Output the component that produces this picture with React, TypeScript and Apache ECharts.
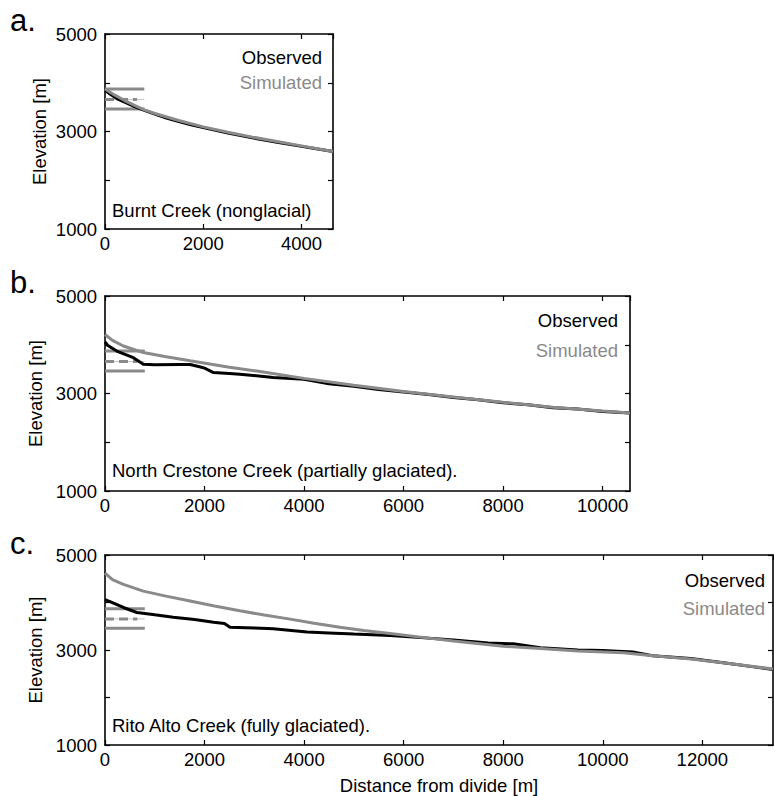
import React, { useEffect, useRef } from "react";
import * as echarts from "echarts";

// ---- Data (distance from divide [m], elevation [m]) ----
const observedA: number[][] = [
  [0, 3850], [100, 3770], [250, 3670], [400, 3600], [600, 3510], [800, 3435],
  [1000, 3360], [1250, 3275], [1500, 3205], [1750, 3140], [2000, 3080],
  [2500, 2970], [3000, 2870], [3500, 2780], [4000, 2695], [4300, 2645], [4640, 2590],
];
const simulatedA: number[][] = [
  [0, 3870], [200, 3745], [400, 3635], [600, 3535], [800, 3445], [1000, 3375],
  [1500, 3225], [2000, 3095], [2500, 2985], [3000, 2885], [3500, 2795],
  [4000, 2705], [4640, 2590],
];

const observedB: number[][] = [
  [0, 4060], [50, 3990], [235, 3870], [570, 3735], [770, 3600], [1000, 3590],
  [1500, 3595], [1710, 3595], [1900, 3550], [2000, 3520], [2180, 3430],
  [2500, 3410], [2710, 3395], [3380, 3330], [4000, 3290], [4500, 3200],
  [5000, 3150], [5500, 3080], [6000, 3030], [6500, 2980], [7000, 2920],
  [7500, 2870], [8000, 2810], [8500, 2770], [9000, 2710], [9500, 2680],
  [10000, 2630], [10550, 2600],
];
const simulatedB: number[][] = [
  [0, 4210], [150, 4090], [370, 3975], [770, 3840], [1200, 3760], [1710, 3670],
  [2500, 3540], [3050, 3460], [4000, 3310], [5000, 3170], [6000, 3040],
  [7000, 2930], [8000, 2820], [9000, 2720], [10000, 2640], [10550, 2600],
];

const observedC: number[][] = [
  [0, 4060], [100, 4020], [370, 3895], [640, 3790], [1000, 3740], [1370, 3690],
  [1800, 3640], [2180, 3585], [2400, 3560], [2510, 3480], [3000, 3465],
  [3380, 3445], [4060, 3380], [4500, 3360], [5000, 3335], [5730, 3305],
  [6500, 3250], [7000, 3210], [7700, 3150], [8200, 3130], [8750, 3050],
  [9500, 3000], [10000, 2990], [10600, 2960], [11000, 2880], [11770, 2820],
  [12500, 2720], [13000, 2650], [13420, 2590],
];
const simulatedC: number[][] = [
  [0, 4620], [150, 4480], [370, 4380], [770, 4240], [1200, 4140], [1710, 4030],
  [2200, 3925], [2710, 3825], [3200, 3735], [3720, 3650], [4200, 3565],
  [4720, 3480], [5200, 3410], [5730, 3345], [6500, 3250], [7000, 3190],
  [8000, 3080], [8750, 3030], [9500, 2980], [10420, 2940], [11000, 2880],
  [11770, 2810], [12500, 2720], [13420, 2600],
];

// ELA range markers (same in each panel)
const elaTop = 3870;
const elaMean = 3655;
const elaBottom = 3460;
const elaBarEnd = 800;
const elaDashEnd = 650;

const panelLabels = ["a.", "b.", "c."];
const creekNames = [
  "Burnt Creek (nonglacial)",
  "North Crestone Creek (partially glaciated).",
  "Rito Alto Creek (fully glaciated).",
];
const xMaxes = [4640, 10550, 13420];
const yTicks = [1000, 2000, 3000, 4000, 5000];
const yLabelled = [1000, 3000, 5000];

const FONT = "Liberation Sans, Arial, Helvetica, sans-serif";
const FS = 18.5;
const GRAY = "#8a8a8a";

const grids = [
  { left: 105, top: 34, width: 228, height: 195 },
  { left: 105, top: 296, width: 525, height: 195 },
  { left: 105, top: 555, width: 668, height: 193 },
];

export default function App() {
  const ref = useRef<HTMLDivElement>(null);

  useEffect(() => {
    if (!ref.current) return;
    const chart = echarts.init(ref.current, undefined, { renderer: "svg" });

    const axisLine = { show: true, onZero: false, lineStyle: { color: "#000", width: 1.6 } };
    const axisTick = { show: true, inside: true, length: 5, lineStyle: { color: "#000", width: 1.2 } };

    const xAxes: any[] = [];
    const yAxes: any[] = [];
    const series: any[] = [];

    const obs = [observedA, observedB, observedC];
    const sim = [simulatedA, simulatedB, simulatedC];

    grids.forEach((g, gi) => {
      const xmax = xMaxes[gi];
      xAxes.push({
        type: "value", gridIndex: gi, min: 0, max: xmax, interval: 2000, position: "bottom",
        axisLine, axisTick, splitLine: { show: false },
        axisLabel: {
          fontSize: FS, color: "#000", margin: 5, fontFamily: FONT, showMaxLabel: false,
          formatter: (v: number) => String(v),
        },
        ...(gi === 2
          ? {
              name: "Distance from divide [m]", nameLocation: "middle", nameGap: 31,
              nameTextStyle: { fontSize: FS, color: "#000", fontFamily: FONT },
            }
          : {}),
      });
      xAxes.push({
        type: "value", gridIndex: gi, min: 0, max: xmax, interval: 2000, position: "top",
        axisLine, axisTick, splitLine: { show: false }, axisLabel: { show: false },
      });
      yAxes.push({
        type: "value", gridIndex: gi, min: yTicks[0], max: yTicks[yTicks.length - 1], interval: 1000,
        position: "left", axisLine, axisTick, splitLine: { show: false },
        axisLabel: {
          fontSize: FS, color: "#000", margin: 8, fontFamily: FONT,
          formatter: (v: number) => (yLabelled.includes(v) ? String(v) : ""),
        },
        name: "Elevation [m]", nameLocation: "middle", nameGap: 56,
        nameTextStyle: { fontSize: FS, color: "#000", fontFamily: FONT },
      });
      yAxes.push({
        type: "value", gridIndex: gi, min: yTicks[0], max: yTicks[yTicks.length - 1], interval: 1000,
        position: "right", axisLine, axisTick, splitLine: { show: false }, axisLabel: { show: false },
      });

      const xi = gi * 2;
      const yi = gi * 2;
      const base = { type: "line", xAxisIndex: xi, yAxisIndex: yi, showSymbol: false, symbol: "none", silent: true, clip: true };
      series.push({ ...base, data: [[0, elaTop], [elaBarEnd, elaTop]], lineStyle: { color: GRAY, width: 3 } });
      series.push({ ...base, data: [[0, elaMean], [elaBarEnd, elaMean]], lineStyle: { color: "#c4c4c4", width: 1 } });
      series.push({ ...base, data: [[0, elaMean], [elaDashEnd, elaMean]], lineStyle: { color: GRAY, width: 3, type: [9, 5] } });
      series.push({ ...base, data: [[0, elaBottom], [elaBarEnd, elaBottom]], lineStyle: { color: GRAY, width: 3 } });
      series.push({ ...base, name: "Observed", data: obs[gi], lineStyle: { color: "#000", width: 3 } });
      series.push({ ...base, name: "Simulated", data: sim[gi], lineStyle: { color: GRAY, width: 3 } });
    });

    const legendPos = [
      { x: 322, y1: 57, y2: 82 },
      { x: 618, y1: 320, y2: 350 },
      { x: 765, y1: 580, y2: 608 },
    ];
    const labelY = [22, 284, 545];
    const creekY = [210, 470, 725];

    const graphic: any[] = [];
    grids.forEach((g, gi) => {
      graphic.push({
        type: "text", left: 10, top: labelY[gi] - 17,
        style: { text: panelLabels[gi], font: `31px ${FONT}`, fill: "#000" },
      });
      graphic.push({
        type: "text", x: 112, y: creekY[gi],
        style: { text: creekNames[gi], font: `${FS}px ${FONT}`, fill: "#000", align: "left", verticalAlign: "middle" },
      });
      graphic.push({
        type: "text", x: legendPos[gi].x, y: legendPos[gi].y1,
        style: { text: "Observed", font: `${FS}px ${FONT}`, fill: "#000", align: "right", verticalAlign: "middle" },
      });
      graphic.push({
        type: "text", x: legendPos[gi].x, y: legendPos[gi].y2,
        style: { text: "Simulated", font: `${FS}px ${FONT}`, fill: GRAY, align: "right", verticalAlign: "middle" },
      });
    });

    chart.setOption({
      animation: false,
      backgroundColor: "#fff",
      textStyle: { fontFamily: FONT },
      grid: grids.map((g) => ({ ...g, containLabel: false })),
      xAxis: xAxes,
      yAxis: yAxes,
      series,
      graphic,
    });

    return () => chart.dispose();
  }, []);

  return (
    <div
      ref={ref}
      style={{ position: "absolute", left: 0, top: 0, width: 774, height: 796, background: "#fff" }}
    />
  );
}
